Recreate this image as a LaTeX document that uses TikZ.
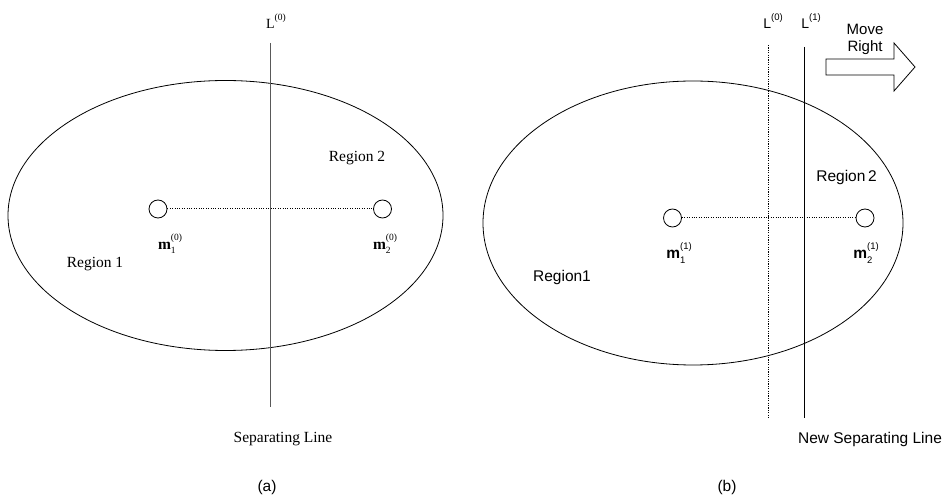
\documentclass[tikz,border=0pt]{standalone}
\usepackage{fontspec}
\setmainfont{Liberation Serif}
\newfontfamily\sansf{Liberation Sans}
\newcommand\mlab[2]{\textbf{m}\rlap{\raisebox{-0.3em}{\fontsize{9.5}{9.5}\selectfont #1}}\raisebox{0.55em}{\fontsize{9.5}{9.5}\selectfont (#2)}}
\newcommand\Llab[1]{L\raisebox{0.55em}{\fontsize{9.5}{9.5}\selectfont (#1)}}
\begin{document}
\begin{tikzpicture}[x=1pt,y=-1pt,
  serif/.style={font=\fontsize{15.5}{18}\selectfont, inner sep=0pt},
  sans/.style={font=\fontsize{15.5}{18}\selectfont\sansf, inner sep=0pt},
  mcirc/.style={draw, circle, minimum size=18pt, inner sep=0pt, line width=0.8pt},
  conn/.style={line width=1pt, dash pattern=on 1pt off 1.4pt},
  outline/.style={line width=0.8pt}]
\useasboundingbox (0,0) rectangle (945,502);
% ---------- panel (a)
\draw[outline] (225.5,215.5) ellipse [x radius=217.5, y radius=135];
\coordinate (La-top) at (270.7,43);
\coordinate (La-bot) at (270.7,407);
\draw[line width=1.3pt, black!65] (La-top) -- (La-bot);
\node[serif, font=\fontsize{14}{16}\selectfont] (La) at (276,21) {\Llab{0}};
\node[mcirc] (m1a) at (158,209) {};
\node[mcirc] (m2a) at (382.5,209) {};
\draw[conn] (m1a) -- (m2a);
\node[serif] (m1alab) at (170,244) {\mlab{1}{0}};
\node[serif] (m2alab) at (385,244) {\mlab{2}{0}};
\node[serif] (r2a) at (357,158) {Region 2};
\node[serif] (r1a) at (95,264) {Region 1};
\node[serif] (sepa) at (283,439) {Separating Line};
\node[sans] (capa) at (267,487) {(a)};
% ---------- panel (b)
\draw[outline] (693,223) ellipse [x radius=210, y radius=142];
\coordinate (L0-top) at (768.7,45);
\coordinate (L0-bot) at (768.7,418);
\draw[line width=1.4pt, dash pattern=on 1.2pt off 1.2pt] (L0-top) -- (L0-bot);
\coordinate (L1-top) at (804.5,47);
\coordinate (L1-bot) at (804.5,418);
\draw[line width=0.9pt] (L1-top) -- (L1-bot);
\node[sans, font=\fontsize{14}{16}\selectfont\sansf] (L0b) at (773,21) {\Llab{0}};
\node[sans, font=\fontsize{14}{16}\selectfont\sansf] (L1b) at (811,21) {\Llab{1}};
\node[mcirc] (m1b) at (672.5,218) {};
\node[mcirc] (m2b) at (865,218) {};
\draw[conn] (m1b) -- (m2b);
\node[sans] (m1blab) at (679,253) {\mlab{1}{1}};
\node[sans] (m2blab) at (866,253) {\mlab{2}{1}};
\node[sans] (r2b) at (846.5,177) {Region\,2};
\node[sans] (r1b) at (562,277) {Region1};
\node[sans] (sepb) at (870,439) {New Separating Line};
\node[sans] (capb) at (727,487) {(b)};
% arrow
\draw[line width=0.8pt] (826,59) -- (894,59) -- (894,43) -- (915,67) -- (894,91) -- (894,75) -- (826,75) -- cycle;
\node[sans, align=center, font=\fontsize{15}{17}\selectfont\sansf] (move) at (865,39) {Move\\Right};
\end{tikzpicture}
\end{document}
